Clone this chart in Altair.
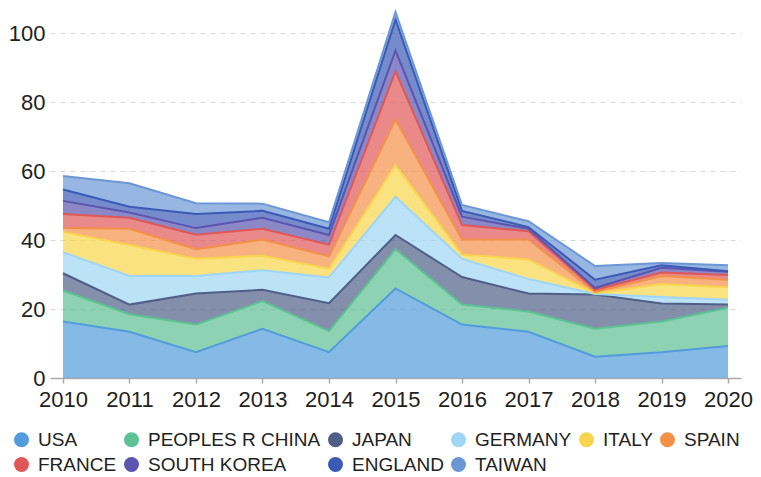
import altair as alt
import pandas as pd

years = [2010, 2011, 2012, 2013, 2014, 2015, 2016, 2017, 2018, 2019, 2020]
countries = ["USA", "PEOPLES R CHINA", "JAPAN", "GERMANY", "ITALY",
             "SPAIN", "FRANCE", "SOUTH KOREA", "ENGLAND", "TAIWAN"]
colors = ["#529cdc", "#5cc193", "#4f5f87", "#9fd6f5", "#f8d54c",
          "#f39149", "#e05757", "#5b55b0", "#3a5ab6", "#6c97d6"]

usa     = [16.4, 13.4, 7.5, 14.3, 7.5, 26.0, 15.5, 13.4, 6.2, 7.5, 9.3]
china   = [9.0, 5.1, 8.0, 8.0, 6.1, 11.4, 5.8, 5.9, 8.1, 8.9, 11.1]
japan   = [5.0, 2.8, 9.0, 3.3, 8.1, 4.1, 8.0, 5.2, 9.9, 5.2, 0.9]
germany = [6.1, 8.3, 5.1, 5.7, 7.5, 11.1, 5.3, 4.2, 0.2, 1.9, 1.4]
italy   = [5.9, 9.0, 5.0, 4.2, 2.5, 9.2, 1.2, 5.7, 0.2, 3.8, 3.6]
spain   = [1.1, 4.7, 2.8, 4.7, 3.6, 13.2, 4.4, 5.8, 0.4, 2.3, 2.2]
france  = [4.1, 3.2, 4.2, 3.1, 3.4, 14.0, 4.2, 2.4, 0.6, 1.0, 1.4]
skorea  = [3.8, 1.5, 1.9, 3.2, 2.8, 6.0, 2.4, 0.7, 0.5, 1.4, 0.9]
england = [3.3, 1.7, 4.1, 2.0, 1.8, 9.0, 1.7, 0.5, 2.4, 0.7, 0.2]
taiwan  = [3.9, 6.8, 3.1, 2.1, 1.9, 2.2, 1.7, 1.7, 4.0, 0.7, 1.7]

series = [usa, china, japan, germany, italy, spain, france, skorea, england, taiwan]

rows = []
for i, (c, vals) in enumerate(zip(countries, series)):
    for yr, v in zip(years, vals):
        rows.append({"year": yr, "country": c, "value": v, "idx": i})
df = pd.DataFrame(rows)

FONT = "Liberation Sans, Arial, Helvetica, sans-serif"

chart = alt.Chart(df).mark_area(
    fillOpacity=0.7,
    line={"strokeWidth": 2},
).encode(
    x=alt.X("year:Q",
            scale=alt.Scale(domain=[2009.805, 2020.195], nice=False, zero=False),
            axis=alt.Axis(values=years, format="d", title=None, grid=False,
                          tickSize=5, tickColor="#aaaaaa", tickWidth=1.5,
                          domainColor="#aaaaaa", domainWidth=1.5,
                          labelFontSize=22, labelPadding=6, labelColor="#222222",
                          labelFont=FONT, labelOverlap=False)),
    y=alt.Y("value:Q", stack="zero",
            scale=alt.Scale(domain=[0, 106.5], nice=False),
            axis=alt.Axis(values=[0, 20, 40, 60, 80, 100], title=None,
                          domain=False, ticks=False, gridDash=[5, 5],
                          gridColor="#d8d8d8", gridWidth=1,
                          labelFontSize=22, labelPadding=5, labelColor="#222222",
                          labelFont=FONT)),
    color=alt.Color("country:N",
                    scale=alt.Scale(domain=countries, range=colors),
                    legend=alt.Legend(orient="none", legendX=-38, legendY=419,
                                      direction="horizontal", columns=6,
                                      gridAlign="each", title=None,
                                      symbolType="circle", symbolSize=225,
                                      symbolStrokeWidth=0, symbolOpacity=1,
                                      labelFontSize=19, labelFont=FONT,
                                      labelColor="#222222", labelOffset=7,
                                      columnPadding=5, rowPadding=5,
                                      padding=0, labelLimit=300)),
    order=alt.Order("idx:Q", sort="ascending"),
).properties(
    width=691, height=367,
    padding={"left": 0, "top": 0, "right": 0, "bottom": 0},
).configure_view(stroke=None)

chart.save("out.html", embed_options={"renderer": "svg", "actions": False})
